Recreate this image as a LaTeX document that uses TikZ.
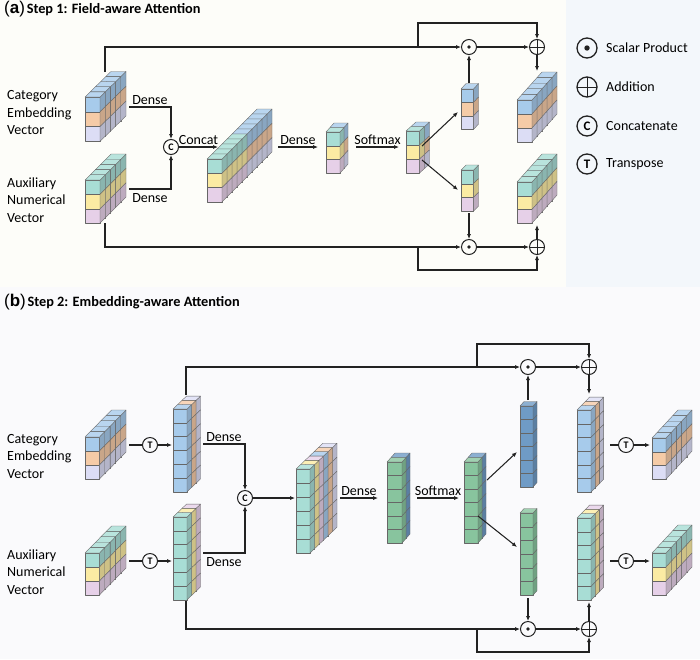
\documentclass[tikz,border=0pt]{standalone}
\usepackage{fontspec}
\setmainfont{Carlito}
\newfontfamily\lblfont{Liberation Sans}
\usetikzlibrary{arrows.meta}
\definecolor{cb}{HTML}{A7CBEB}
\definecolor{co}{HTML}{F5CBA7}
\definecolor{cl}{HTML}{DCDDF5}
\definecolor{ct}{HTML}{A8DDD5}
\definecolor{cy}{HTML}{FBEBA3}
\definecolor{cp}{HTML}{E6D0E8}
\definecolor{cg}{HTML}{88C49E}
\definecolor{cs}{HTML}{6F9BC6}
\definecolor{bgA}{HTML}{FDFDF9}
\definecolor{bgL}{HTML}{F3F7FB}
\definecolor{bgB}{HTML}{FAFAFC}
\definecolor{ink}{HTML}{222222}
\tikzset{
  face/.style={draw=black!60, line width=0.35pt, line join=round},
  conn/.style={draw=ink, line width=1.05pt},
  arr/.style={conn, -{Latex[length=5pt,width=4.2pt]}},
  opc/.style={circle, draw=ink, line width=1pt, minimum size=15pt, inner sep=0pt},
  dotop/.style={opc, path picture={\fill[ink] (path picture bounding box.center) circle (1.9pt);}},
  plusop/.style={opc, path picture={\draw[ink, line width=1pt] (path picture bounding box.north) -- (path picture bounding box.south) (path picture bounding box.west) -- (path picture bounding box.east);}},
  letop/.style={opc, font=\bfseries\fontsize{10}{10}\selectfont},
  legc/.style={minimum size=20pt, line width=1.3pt},
  lbl/.style={font=\fontsize{14}{17}\selectfont, inner sep=2pt},
  side/.style={font=\fontsize{14}{17.5}\selectfont, align=left, anchor=west, inner sep=0pt},
  ttl/.style={anchor=west, inner sep=0pt},
}
% #1 X, #2 Y (front top-left), #3 w, #4 h, #5 dx, #6 dy, #7 N layers, #8 layers back->front
\newcommand{\blk}[8]{%
  \foreach \bkL [count=\bkI] in {#8} {
    \pgfmathsetmacro{\bkD}{#7-\bkI}
    \pgfmathsetmacro{\bkX}{#1+\bkD*(#5)}
    \pgfmathsetmacro{\bkY}{#2+\bkD*(#6)}
    \foreach \bkC [count=\bkR] in \bkL {
      \pgfmathsetmacro{\bkRy}{\bkY+(\bkR-1)*(#4)}
      \filldraw[face, fill=\bkC] (\bkX,\bkRy) rectangle ++(#3,#4);
      \filldraw[face, fill=\bkC!82!black] ({\bkX+#3},\bkRy) -- ({\bkX+#3+#5},{\bkRy+(#6)}) -- ({\bkX+#3+#5},{\bkRy+#4+(#6)}) -- ({\bkX+#3},{\bkRy+#4}) -- cycle;
      \ifnum\bkR=1
        \filldraw[face, fill=\bkC!80!white] (\bkX,\bkRy) -- ({\bkX+#3},\bkRy) -- ({\bkX+#3+#5},{\bkRy+(#6)}) -- ({\bkX+#5},{\bkRy+(#6)}) -- cycle;
      \fi
    }
  }
}
\begin{document}
\begin{tikzpicture}[x=1pt,y=-1pt]
\useasboundingbox (0,0) rectangle (700,659);
\fill[bgA] (0,0) rectangle (566,287);
\fill[bgL] (566,0) rectangle (700,287);
\fill[bgB] (0,287) rectangle (700,659);

% titles
\node[ttl] (ta) at (4,9) {{\lblfont\fontsize{17}{17}\selectfont(\textbf{a})}\,{\fontsize{14.3}{14.3}\selectfont\bfseries Step 1: Field-aware Attention}};
\node[ttl] (tb) at (4,302) {{\lblfont\fontsize{17}{17}\selectfont(\textbf{b})}\,{\fontsize{14.3}{14.3}\selectfont\bfseries Step 2: Embedding-aware Attention}};

% ================= (a)
\node[side] (lcatA) at (7,113) {Category\\Embedding\\Vector};
\node[side] (lauxA) at (7,200) {Auxiliary\\Numerical\\Vector};

\blk{85}{97}{15}{14.8}{5.2}{-5.1}{5}{{cb,co,cl},{cb,co,cl},{cb,co,cl},{cb,co,cl},{cb,co,cl}}
\blk{85}{180}{15}{14.4}{5.2}{-5.2}{5}{{ct,cy,cp},{ct,cy,cp},{ct,cy,cp},{ct,cy,cp},{ct,cy,cp}}
\blk{207}{159}{15}{14.3}{5}{-5}{10}{{cb,co,cl},{cb,co,cl},{cb,co,cl},{cb,co,cl},{cb,co,cl},{ct,cy,cp},{ct,cy,cp},{ct,cy,cp},{ct,cy,cp},{ct,cy,cp}}
\blk{326}{132}{14}{13.7}{4}{-4.5}{2}{{cb,co,cl},{ct,cy,cp}}
\blk{406}{131}{13.5}{14}{5}{-4.5}{2}{{cb,co,cl},{ct,cy,cp}}
\blk{461}{89}{12.5}{13.5}{5}{-5.5}{1}{{cb,co,cl}}
\blk{461}{170}{12.5}{13.7}{5}{-5}{1}{{ct,cy,cp}}
\blk{517}{100}{15}{14}{5}{-5.6}{5}{{cb,co,cl},{cb,co,cl},{cb,co,cl},{cb,co,cl},{cb,co,cl}}
\blk{517}{182}{15}{13.7}{5}{-5.6}{5}{{ct,cy,cp},{ct,cy,cp},{ct,cy,cp},{ct,cy,cp},{ct,cy,cp}}

\node[letop] (cA) at (171,147) {C};
\node[dotop] (dA1) at (469,47) {};
\node[plusop] (pA1) at (537,47) {};
\node[dotop] (dA2) at (469,247) {};
\node[plusop] (pA2) at (537,247) {};

\coordinate (catAtop) at (105,72);
\coordinate (catAr) at (129,107);
\coordinate (auxAr) at (129,189);
\coordinate (auxAbot) at (105,223);
\coordinate (concatAin) at (218,147);
\coordinate (concatAout) at (278,147);
\coordinate (denseAin) at (318,147);
\coordinate (denseAout) at (356,147);
\coordinate (smAin) at (399,147);
\coordinate (smAu) at (422,146);
\coordinate (smAl) at (422,160);
\coordinate (colAuin) at (458,112);
\coordinate (colAlin) at (458,190);
\coordinate (colAutop) at (469,83);
\coordinate (colAlbot) at (469,213);
\coordinate (outAutop) at (537,71);
\coordinate (outAlbot) at (537,225);
\coordinate (brAu) at (418,47);
\coordinate (brAut) at (418,23);
\coordinate (brAl) at (418,247);
\coordinate (brAlb) at (418,270);

\draw[arr] (catAtop) |- (dA1);
\draw[arr] (brAu) -- (brAut) -| (pA1);
\draw[arr] (dA1) -- (pA1);
\draw[arr] (pA1) -- (outAutop);
\draw[arr] (colAutop) -- (dA1);
\draw[arr] (auxAbot) |- (dA2);
\draw[arr] (brAl) -- (brAlb) -| (pA2);
\draw[arr] (dA2) -- (pA2);
\draw[arr] (pA2) -- (outAlbot);
\draw[arr] (colAlbot) -- (dA2);
\draw[arr] (catAr) -| (cA) node[lbl, pos=0.25, above] {Dense};
\draw[arr] (auxAr) -| (cA) node[lbl, pos=0.25, below, inner sep=4pt] {Dense};
\draw[arr] (cA) -- (concatAin) node[lbl, midway, above] {Concat};
\draw[arr] (concatAout) -- (denseAin) node[lbl, midway, above] {Dense};
\draw[arr] (denseAout) -- (smAin) node[lbl, midway, above] {Softmax};
\draw[arr] (smAu) -- (colAuin);
\draw[arr] (smAl) -- (colAlin);

% legend
\node[dotop, legc, path picture={\fill[ink] (path picture bounding box.center) circle (2.7pt);}] (lg1) at (587,48) {};
\node[plusop, legc] (lg2) at (587,87) {};
\node[letop, legc, font=\bfseries\fontsize{13}{13}\selectfont] (lg3) at (587,126) {C};
\node[letop, legc, font=\bfseries\fontsize{13}{13}\selectfont] (lg4) at (587,164) {T};
\node[lbl, anchor=west, inner sep=0pt] (lt1) at (606,48) {Scalar Product};
\node[lbl, anchor=west, inner sep=0pt] (lt2) at (606,87) {Addition};
\node[lbl, anchor=west, inner sep=0pt] (lt3) at (606,126) {Concatenate};
\node[lbl, anchor=west, inner sep=0pt] (lt4) at (606,164) {Transpose};

% ================= (b)
\node[side] (lcatB) at (7,456) {Category\\Embedding\\Vector};
\node[side] (lauxB) at (7,572) {Auxiliary\\Numerical\\Vector};

\blk{85}{437}{14.5}{14}{5.3}{-5.4}{5}{{cb,co,cl},{cb,co,cl},{cb,co,cl},{cb,co,cl},{cb,co,cl}}
\blk{85}{553}{14.5}{14}{5.3}{-5.4}{5}{{ct,cy,cp},{ct,cy,cp},{ct,cy,cp},{ct,cy,cp},{ct,cy,cp}}
\blk{173}{409}{14}{13.8}{4.5}{-4.3}{3}{{cl,cl,cl,cl,cl,cl},{co,co,co,co,co,co},{cb,cb,cb,cb,cb,cb}}
\blk{173}{517}{14}{13.8}{4.5}{-4.3}{3}{{cp,cp,cp,cp,cp,cp},{cy,cy,cy,cy,cy,cy},{ct,ct,ct,ct,ct,ct}}
\blk{296}{469}{14}{14}{4.5}{-4.3}{6}{{cl,cl,cl,cl,cl,cl},{co,co,co,co,co,co},{cb,cb,cb,cb,cb,cb},{cp,cp,cp,cp,cp,cp},{cy,cy,cy,cy,cy,cy},{ct,ct,ct,ct,ct,ct}}
\blk{387}{462}{15}{13.5}{4}{-4.5}{2}{{cs,cs,cs,cs,cs,cs},{cg,cg,cg,cg,cg,cg}}
\blk{464}{462}{14}{13.5}{4}{-4.5}{2}{{cs,cs,cs,cs,cs,cs},{cg,cg,cg,cg,cg,cg}}
\blk{520}{406}{13}{13.5}{4}{-4.5}{1}{{cs,cs,cs,cs,cs,cs}}
\blk{520}{513}{13}{13.7}{4}{-4.5}{1}{{cg,cg,cg,cg,cg,cg}}
\blk{577}{410}{14}{13.7}{4.2}{-4.3}{3}{{cl,cl,cl,cl,cl,cl},{co,co,co,co,co,co},{cb,cb,cb,cb,cb,cb}}
\blk{577}{518}{14}{13.7}{4.2}{-4.3}{3}{{cp,cp,cp,cp,cp,cp},{cy,cy,cy,cy,cy,cy},{ct,ct,ct,ct,ct,ct}}
\blk{652}{438}{14}{13.7}{5.2}{-5.6}{5}{{cb,co,cl},{cb,co,cl},{cb,co,cl},{cb,co,cl},{cb,co,cl}}
\blk{652}{553}{14}{14}{5.2}{-5.6}{5}{{ct,cy,cp},{ct,cy,cp},{ct,cy,cp},{ct,cy,cp},{ct,cy,cp}}

\node[letop] (tB1) at (150,445) {T};
\node[letop] (tB2) at (150,561) {T};
\node[letop] (cB) at (245,498) {C};
\node[dotop] (dB1) at (528,367) {};
\node[plusop] (pB1) at (589,367) {};
\node[dotop] (dB2) at (528,629) {};
\node[plusop] (pB2) at (589,629) {};
\node[letop] (tB3) at (626,445) {T};
\node[letop] (tB4) at (626,561) {T};

\coordinate (catBr) at (129,445);
\coordinate (tblkB1in) at (172,445);
\coordinate (auxBr) at (129,561);
\coordinate (tblkB2in) at (172,561);
\coordinate (tblkB1top) at (186,395);
\coordinate (tblkB1r) at (203,444);
\coordinate (tblkB2r) at (203,553);
\coordinate (tblkB2bot) at (186,601);
\coordinate (concatBin) at (295,498);
\coordinate (concatBout) at (340,498);
\coordinate (denseBin) at (378,498);
\coordinate (denseBout) at (417,498);
\coordinate (smBin) at (459,498);
\coordinate (smBu) at (487,480);
\coordinate (smBl) at (478,516);
\coordinate (colBuin) at (517,452);
\coordinate (colBlin) at (517,547);
\coordinate (colButop) at (528,400);
\coordinate (colBlbot) at (528,598);
\coordinate (outButop) at (589,394);
\coordinate (outBlbot) at (589,602);
\coordinate (brBu) at (477,367);
\coordinate (brBut) at (477,344);
\coordinate (brBl) at (477,629);
\coordinate (brBlb) at (477,652);
\coordinate (outBur) at (610,445);
\coordinate (finBuin) at (650,445);
\coordinate (outBlr) at (610,561);
\coordinate (finBlin) at (650,561);

\draw[conn] (catBr) -- (tB1);
\draw[arr] (tB1) -- (tblkB1in);
\draw[conn] (auxBr) -- (tB2);
\draw[arr] (tB2) -- (tblkB2in);
\draw[arr] (tblkB1top) |- (dB1);
\draw[arr] (brBu) -- (brBut) -| (pB1);
\draw[arr] (dB1) -- (pB1);
\draw[arr] (pB1) -- (outButop);
\draw[arr] (colButop) -- (dB1);
\draw[arr] (tblkB2bot) |- (dB2);
\draw[arr] (brBl) -- (brBlb) -| (pB2);
\draw[arr] (dB2) -- (pB2);
\draw[arr] (pB2) -- (outBlbot);
\draw[arr] (colBlbot) -- (dB2);
\draw[arr] (tblkB1r) -| (cB) node[lbl, pos=0.25, above] {Dense};
\draw[arr] (tblkB2r) -| (cB) node[lbl, pos=0.25, below, inner sep=4pt] {Dense};
\draw[arr] (cB) -- (concatBin);
\draw[arr] (concatBout) -- (denseBin) node[lbl, midway, above] {Dense};
\draw[arr] (denseBout) -- (smBin) node[lbl, midway, above] {Softmax};
\draw[arr] (smBu) -- (colBuin);
\draw[arr] (smBl) -- (colBlin);
\draw[conn] (outBur) -- (tB3);
\draw[arr] (tB3) -- (finBuin);
\draw[conn] (outBlr) -- (tB4);
\draw[arr] (tB4) -- (finBlin);
\end{tikzpicture}
\end{document}
